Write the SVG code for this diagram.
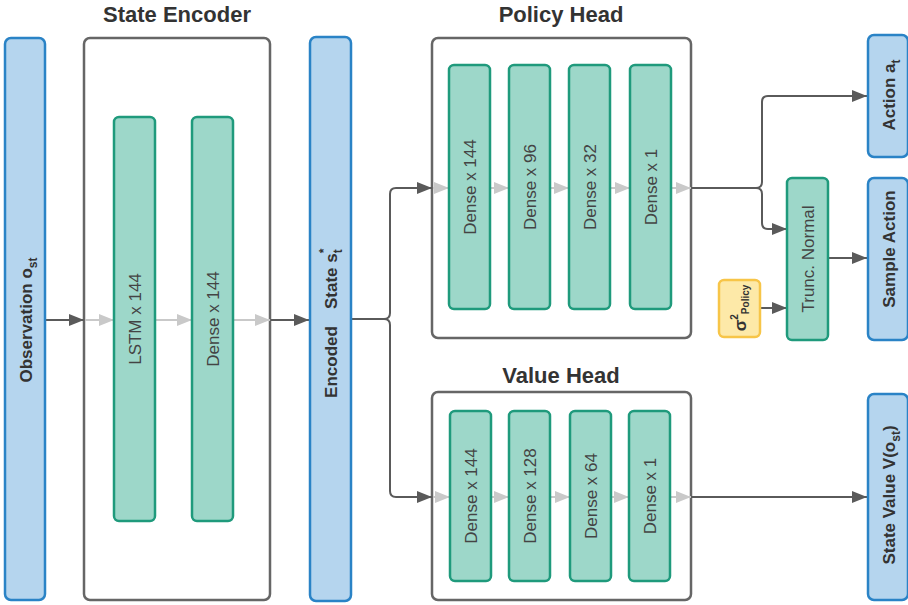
<svg xmlns="http://www.w3.org/2000/svg" width="908" height="605" viewBox="0 0 908 605">
  <style>
    .io { fill: #b5d5ee; stroke: #2a83c6; stroke-width: 2.5; }
    .layer { fill: #9dd7c9; stroke: #1f9a7c; stroke-width: 2.5; }
    .frame { fill: #ffffff; stroke: #666666; stroke-width: 2.5; }
    .param { fill: #fde9a8; stroke: #f7c548; stroke-width: 2.5; }
    .title { font-family: "Liberation Sans", Arial, sans-serif; font-size: 22px; font-weight: bold; fill: #333333; text-anchor: middle; }
    .iolbl { font-family: "Liberation Sans", Arial, sans-serif; font-size: 17px; font-weight: bold; fill: #333333; text-anchor: middle; dominant-baseline: central; }
    .lbl { font-family: "Liberation Sans", Arial, sans-serif; font-size: 17px; fill: #444444; text-anchor: middle; dominant-baseline: central; }
    .dark { fill: none; stroke: #5a5a5a; stroke-width: 2; }
    .light { fill: none; stroke: #c9c9c9; stroke-width: 2; }
  </style>
  <defs>
    <marker id="hd" markerUnits="userSpaceOnUse" markerWidth="16" markerHeight="14" refX="15" refY="7" orient="auto">
      <path d="M0,1 L15,7 L0,13 Z" fill="#5a5a5a"/>
    </marker>
    <marker id="hl" markerUnits="userSpaceOnUse" markerWidth="16" markerHeight="14" refX="15" refY="7" orient="auto">
      <path d="M0,1 L15,7 L0,13 Z" fill="#c9c9c9"/>
    </marker>
  </defs>

  <!-- section titles -->
  <text class="title" x="177" y="22">State Encoder</text>
  <text class="title" x="561" y="22">Policy Head</text>
  <text class="title" x="561" y="383">Value Head</text>

  <!-- frames -->
  <g id="state-encoder">
    <rect class="frame" x="84" y="38" width="186" height="562" rx="6"/>
  </g>
  <g id="policy-head">
    <rect class="frame" x="432" y="38" width="259" height="300" rx="6"/>
  </g>
  <g id="value-head">
    <rect class="frame" x="432" y="392" width="259" height="208" rx="6"/>
  </g>

  <!-- connectors -->
  <g id="connectors">
    <path class="dark" d="M46,320 H84" marker-end="url(#hd)"/>
    <path class="light" d="M85,320 H114" marker-end="url(#hl)"/>
    <path class="light" d="M156,320 H192" marker-end="url(#hl)"/>
    <path class="light" d="M234,320 H270" marker-end="url(#hl)"/>
    <path class="dark" d="M271,320 H309" marker-end="url(#hd)"/>

    <path class="dark" d="M352,319 H384 Q390,319 390,313 V194 Q390,188 396,188 H432" marker-end="url(#hd)"/>
    <path class="dark" d="M384,319 Q390,319 390,325 V491 Q390,497 396,497 H432" marker-end="url(#hd)"/>

    <path class="light" d="M433,188 H449" marker-end="url(#hl)"/>
    <path class="light" d="M491,188 H509" marker-end="url(#hl)"/>
    <path class="light" d="M551,188 H569" marker-end="url(#hl)"/>
    <path class="light" d="M611,188 H630" marker-end="url(#hl)"/>
    <path class="light" d="M672,188 H691" marker-end="url(#hl)"/>

    <path class="light" d="M433,497 H450" marker-end="url(#hl)"/>
    <path class="light" d="M492,497 H509" marker-end="url(#hl)"/>
    <path class="light" d="M551,497 H570" marker-end="url(#hl)"/>
    <path class="light" d="M612,497 H629" marker-end="url(#hl)"/>
    <path class="light" d="M671,497 H691" marker-end="url(#hl)"/>

    <path class="dark" d="M691,188 H756 Q762,188 762,182 V102 Q762,96 768,96 H867" marker-end="url(#hd)"/>
    <path class="dark" d="M756,188 Q762,188 762,194 V223 Q762,229 768,229 H787" marker-end="url(#hd)"/>
    <path class="dark" d="M829,258 H867" marker-end="url(#hd)"/>
    <path class="dark" d="M761,308 H787" marker-end="url(#hd)"/>
    <path class="dark" d="M691,497 H867" marker-end="url(#hd)"/>
  </g>

  <!-- input / output nodes -->
  <g id="observation">
    <rect class="io" x="5" y="38" width="40" height="562" rx="6"/>
    <text class="iolbl" transform="translate(26,320) rotate(-90)">Observation o<tspan font-size="12" baseline-shift="sub">st</tspan></text>
  </g>
  <g id="encoded-state">
    <rect class="io" x="310" y="37" width="41" height="564" rx="6"/>
    <text class="iolbl" font-size="16" transform="translate(331,362) rotate(-90)">Encoded</text>
    <text class="iolbl" font-size="16" style="text-anchor:start" transform="translate(331,309) rotate(-90)">State s<tspan font-size="12" baseline-shift="sub">t</tspan><tspan font-size="12" dx="-4" baseline-shift="super">*</tspan></text>
  </g>
  <g id="action">
    <rect class="io" x="868" y="35" width="40" height="122" rx="6"/>
    <text class="iolbl" transform="translate(889,95) rotate(-90)">Action a<tspan font-size="12" baseline-shift="sub">t</tspan></text>
  </g>
  <g id="sample-action">
    <rect class="io" x="868" y="178" width="40" height="162" rx="6"/>
    <text class="iolbl" font-size="15.5" transform="translate(889,249) rotate(-90)">Sample Action</text>
  </g>
  <g id="state-value">
    <rect class="io" x="868" y="394" width="40" height="206" rx="6"/>
    <text class="iolbl" transform="translate(889,495) rotate(-90)">State Value V(o<tspan font-size="12" baseline-shift="sub">st</tspan>)</text>
  </g>

  <!-- encoder layers -->
  <g id="lstm">
    <rect class="layer" x="114" y="117" width="41" height="404" rx="5"/>
    <text class="lbl" transform="translate(135,319) rotate(-90)">LSTM x 144</text>
  </g>
  <g id="enc-dense">
    <rect class="layer" x="192" y="117" width="41" height="404" rx="5"/>
    <text class="lbl" transform="translate(213,319) rotate(-90)">Dense x 144</text>
  </g>

  <!-- policy layers -->
  <g id="p-dense-144">
    <rect class="layer" x="449" y="65" width="41" height="244" rx="5"/>
    <text class="lbl" transform="translate(470,187) rotate(-90)">Dense x 144</text>
  </g>
  <g id="p-dense-96">
    <rect class="layer" x="509" y="65" width="41" height="244" rx="5"/>
    <text class="lbl" transform="translate(530,187) rotate(-90)">Dense x 96</text>
  </g>
  <g id="p-dense-32">
    <rect class="layer" x="569" y="65" width="41" height="244" rx="5"/>
    <text class="lbl" transform="translate(590,187) rotate(-90)">Dense x 32</text>
  </g>
  <g id="p-dense-1">
    <rect class="layer" x="630" y="65" width="41" height="244" rx="5"/>
    <text class="lbl" transform="translate(651,187) rotate(-90)">Dense x 1</text>
  </g>

  <!-- value layers -->
  <g id="v-dense-144">
    <rect class="layer" x="450" y="411" width="41" height="170" rx="5"/>
    <text class="lbl" transform="translate(471,496) rotate(-90)">Dense x 144</text>
  </g>
  <g id="v-dense-128">
    <rect class="layer" x="509" y="411" width="41" height="170" rx="5"/>
    <text class="lbl" transform="translate(530,496) rotate(-90)">Dense x 128</text>
  </g>
  <g id="v-dense-64">
    <rect class="layer" x="570" y="411" width="41" height="170" rx="5"/>
    <text class="lbl" transform="translate(591,496) rotate(-90)">Dense x 64</text>
  </g>
  <g id="v-dense-1">
    <rect class="layer" x="629" y="411" width="41" height="170" rx="5"/>
    <text class="lbl" transform="translate(650,496) rotate(-90)">Dense x 1</text>
  </g>

  <!-- sampling -->
  <g id="trunc-normal">
    <rect class="layer" x="787" y="178" width="41" height="162" rx="5"/>
    <text class="lbl" transform="translate(808,259) rotate(-90)">Trunc. Normal</text>
  </g>
  <g id="sigma-policy">
    <rect class="param" x="719" y="280" width="41" height="57" rx="5"/>
    <text class="iolbl" font-size="15" transform="translate(740,308) rotate(-90)">σ<tspan font-size="10" baseline-shift="super">2</tspan><tspan font-size="10" baseline-shift="sub">Policy</tspan></text>
  </g>
</svg>
